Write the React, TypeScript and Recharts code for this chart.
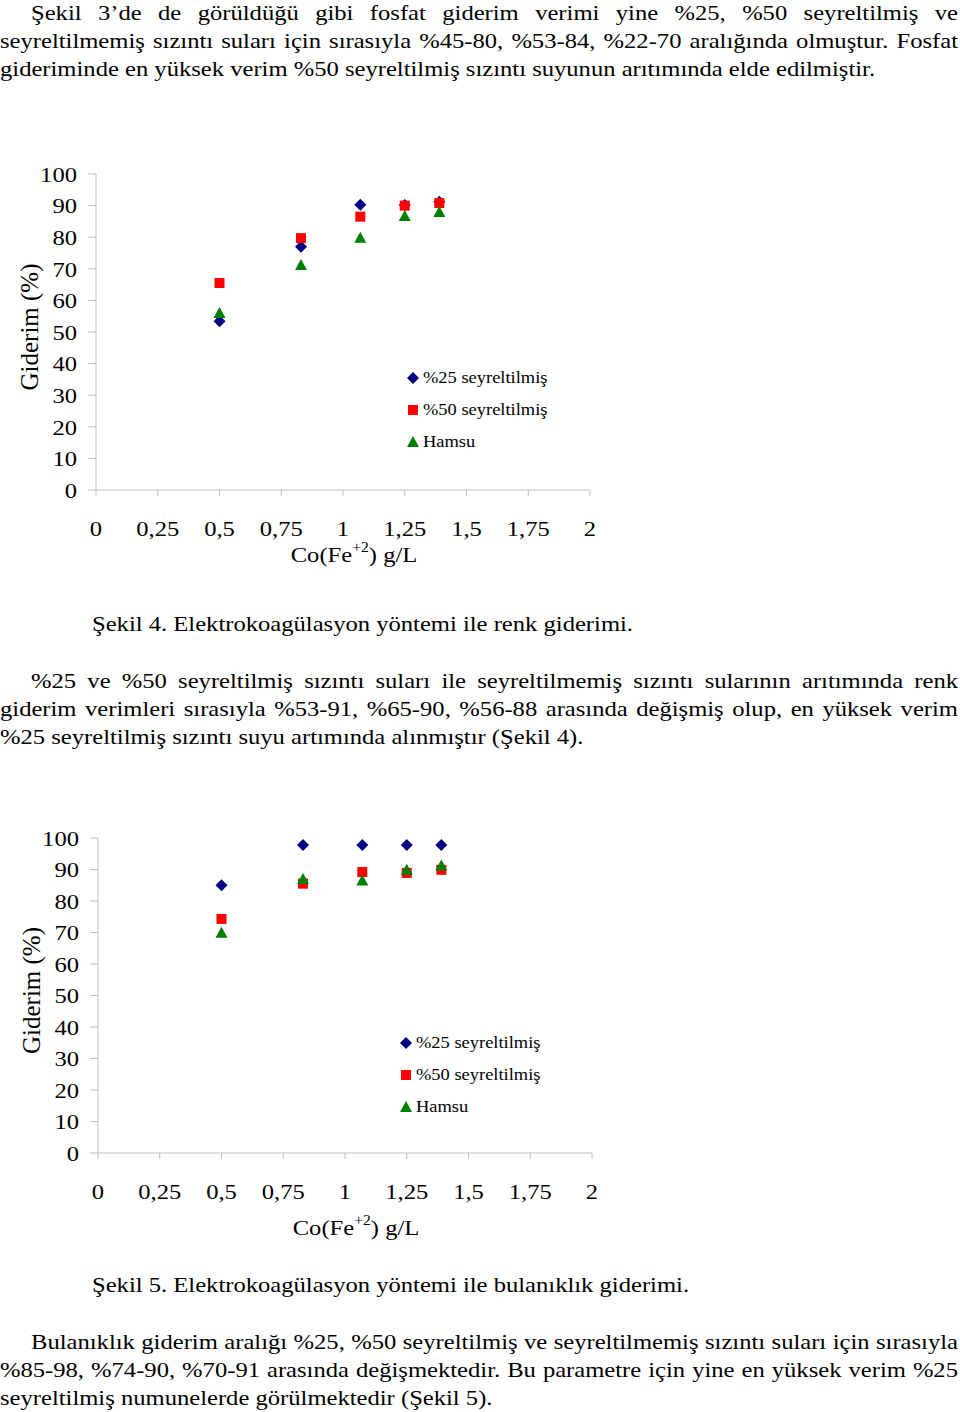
import React from 'react'
import { ScatterChart, Scatter, XAxis, YAxis, Legend, Label } from 'recharts'

const FONT = "'Liberation Serif', 'Times New Roman', serif"
const AXIS_GRAY = '#bfbfbf'
// the scanned page is wider than a plain Times rendering
const SX = 1.118

// Co(Fe+2) g/L values of the measurements
const xValues = [0.5, 0.83, 1.07, 1.25, 1.39]
const xTicks = [0, 0.25, 0.5, 0.75, 1, 1.25, 1.5, 1.75, 2]
const yTicks = [0, 10, 20, 30, 40, 50, 60, 70, 80, 90, 100]
const seriesNames = ['%25 seyreltilmiş', '%50 seyreltilmiş', 'Hamsu']
const seriesColors = ['#000080', '#ff0000', '#008000']

// Şekil 4 - renk giderimi (%)
const renk25 = [53.4, 77, 90.3, 90.2, 91.2]
const renk50 = [65.5, 79.7, 86.5, 90, 90.8]
const renkHamsu = [56, 71.2, 79.8, 86.7, 88]

// Şekil 5 - bulanıklık giderimi (%)
const bulanik25 = [85, 97.8, 97.8, 97.8, 97.8]
const bulanik50 = [74.3, 85.5, 89.2, 88.9, 89.9]
const bulanikHamsu = [69.9, 87, 86.5, 89.9, 91.3]

const toPoints = (ys: number[]) => xValues.map((x, i) => ({ x, y: ys[i] }))

const Diamond = ({ cx, cy }: any) => (
  <polygon points={`${cx},${cy - 6} ${cx + 6},${cy} ${cx},${cy + 6} ${cx - 6},${cy}`} fill={seriesColors[0]} />
)
const Square = ({ cx, cy }: any) => (
  <rect x={cx - 5} y={cy - 5} width={10} height={10} fill={seriesColors[1]} />
)
const Triangle = ({ cx, cy }: any) => (
  <polygon points={`${cx},${cy - 6} ${cx + 6},${cy + 5} ${cx - 6},${cy + 5}`} fill={seriesColors[2]} />
)
const shapes = [Diamond, Square, Triangle]

const fmtX = (v: number) => String(v).replace('.', ',')

const XTick = ({ x, y, payload }: any) => (
  <g transform={`translate(${x},${y}) scale(${SX},1)`}>
    <text x={0} y={0} dy="0.71em" textAnchor="middle" fontFamily={FONT} fontSize={22} fill="#000">
      {fmtX(payload.value)}
    </text>
  </g>
)

const YTick = ({ x, y, payload }: any) => (
  <g transform={`translate(${x},${y}) scale(${SX},1)`}>
    <text x={0} y={0} dy="0.355em" textAnchor="end" fontFamily={FONT} fontSize={22} fill="#000">
      {payload.value}
    </text>
  </g>
)

const LegendBox = () => (
  <div style={{ fontFamily: FONT, fontSize: 16.5, color: '#000' }}>
    {seriesNames.map((name, i) => {
      const Shape = shapes[i]
      return (
        <div key={name} style={{ display: 'flex', alignItems: 'center', height: 32, whiteSpace: 'nowrap' }}>
          <svg width={16} height={16} style={{ marginRight: 2 }}>
            <Shape cx={8} cy={8} />
          </svg>
          <span style={{ display: 'inline-block', transform: `scaleX(${SX})`, transformOrigin: 'left center' }}>{name}</span>
        </div>
      )
    })}
  </div>
)

interface ChartProps {
  left: number
  top: number
  plotHeight: number
  titleDy: number
  legendLeft: number
  legendTop: number
  series: number[][]
}

function GiderimChart({ left, top, plotHeight, titleDy, legendLeft, legendTop, series }: ChartProps) {
  return (
    <div style={{ position: 'absolute', left, top }}>
      <ScatterChart width={600} height={24 + plotHeight + 90} margin={{ top: 24, right: 10, left: 0, bottom: 0 }}>
        <XAxis
          type="number"
          dataKey="x"
          domain={[0, 2]}
          ticks={xTicks}
          interval={0}
          tickSize={6}
          tickMargin={24}
          height={90}
          stroke={AXIS_GRAY}
          tick={<XTick />}
        >
          <Label
            content={(props: any) => {
              const vb = props.viewBox
              const cx = vb.x + vb.width / 2 + 11
              const cy = vb.y + titleDy
              return (
                <g transform={`translate(${cx},${cy}) scale(${SX},1)`}>
                  <text x={0} y={0} textAnchor="middle" fontFamily={FONT} fontSize={22} fill="#000">
                    Co(Fe<tspan fontSize={14} dy={-10}>+2</tspan><tspan dy={10}>) g/L</tspan>
                  </text>
                </g>
              )
            }}
          />
        </XAxis>
        <XAxis xAxisId="top" orientation="top" type="number" domain={[0, 2]} height={0} tick={false} tickLine={false} stroke={AXIS_GRAY} />
        <YAxis
          type="number"
          dataKey="y"
          domain={[0, 100]}
          ticks={yTicks}
          interval={0}
          tickSize={8}
          tickMargin={11}
          width={96}
          stroke={AXIS_GRAY}
          tick={<YTick />}
        >
          <Label
            content={(props: any) => {
              const vb = props.viewBox
              const cx = vb.x + 29
              const cy = vb.y + vb.height / 2 - 5
              return (
                <text x={cx} y={cy} transform={`rotate(-90 ${cx} ${cy})`} textAnchor="middle" dominantBaseline="central" fontFamily={FONT} fontSize={25} fill="#000">
                  Giderim (%)
                </text>
              )
            }}
          />
        </YAxis>
        <YAxis yAxisId="right" orientation="right" type="number" domain={[0, 100]} width={0} tick={false} tickLine={false} stroke={AXIS_GRAY} />
        <Legend
          layout="vertical"
          align="center"
          verticalAlign="middle"
          wrapperStyle={{ left: legendLeft, top: legendTop, width: 'auto', height: 'auto' }}
          content={() => <LegendBox />}
        />
        {series.map((ys, i) => (
          <Scatter key={seriesNames[i]} name={seriesNames[i]} data={toPoints(ys)} shape={shapes[i]} isAnimationActive={false} />
        ))}
      </ScatterChart>
    </div>
  )
}

function Para({ top, lines, indent = 31 }: { top: number; lines: string[]; indent?: number }) {
  return (
    <div style={{ position: 'absolute', left: 0, top, width: 958, fontFamily: FONT, fontSize: 22, lineHeight: '28px', color: '#000' }}>
      {lines.map((l, i) => {
        const last = i === lines.length - 1
        const ind = i === 0 ? indent : 0
        return (
          <div
            key={i}
            style={{
              marginLeft: ind,
              width: (958 - ind) / SX,
              transform: `scaleX(${SX})`,
              transformOrigin: 'left top',
              textAlign: last ? 'left' : 'justify',
              textAlignLast: last ? 'left' : 'justify',
              whiteSpace: last ? 'nowrap' : 'normal',
            }}
          >
            {l}
          </div>
        )
      })}
    </div>
  )
}

const para1 = [
  'Şekil 3’de de görüldüğü gibi fosfat giderim verimi yine %25, %50 seyreltilmiş ve',
  'seyreltilmemiş sızıntı suları için sırasıyla %45-80, %53-84, %22-70 aralığında olmuştur. Fosfat',
  'gideriminde en yüksek verim %50 seyreltilmiş sızıntı suyunun arıtımında elde edilmiştir.',
]
const para2 = [
  '%25 ve %50 seyreltilmiş sızıntı suları ile seyreltilmemiş sızıntı sularının arıtımında renk',
  'giderim verimleri sırasıyla %53-91, %65-90, %56-88 arasında değişmiş olup, en yüksek verim',
  '%25 seyreltilmiş sızıntı suyu artımında alınmıştır (Şekil 4).',
]
const para3 = [
  'Bulanıklık giderim aralığı %25, %50 seyreltilmiş ve seyreltilmemiş sızıntı suları için sırasıyla',
  '%85-98, %74-90, %70-91 arasında değişmektedir. Bu parametre için yine en yüksek verim %25',
  'seyreltilmiş numunelerde görülmektedir (Şekil 5).',
]

export default function App() {
  return (
    <div style={{ position: 'absolute', left: 0, top: 0, width: 960, height: 1412, background: '#fff', overflow: 'hidden' }}>
      <Para top={-1.5} lines={para1} />
      <GiderimChart
        left={0}
        top={150}
        plotHeight={316}
        titleDy={72}
        legendLeft={404.7}
        legendTop={211.7}
        series={[renk25, renk50, renkHamsu]}
      />
      <Para top={609.6} indent={92} lines={['Şekil 4. Elektrokoagülasyon yöntemi ile renk giderimi.']} />
      <Para top={666.6} lines={para2} />
      <GiderimChart
        left={2}
        top={814}
        plotHeight={315}
        titleDy={81.5}
        legendLeft={396}
        legendTop={213}
        series={[bulanik25, bulanik50, bulanikHamsu]}
      />
      <Para top={1270.6} indent={92} lines={['Şekil 5. Elektrokoagülasyon yöntemi ile bulanıklık giderimi.']} />
      <Para top={1327.6} lines={para3} />
    </div>
  )
}
